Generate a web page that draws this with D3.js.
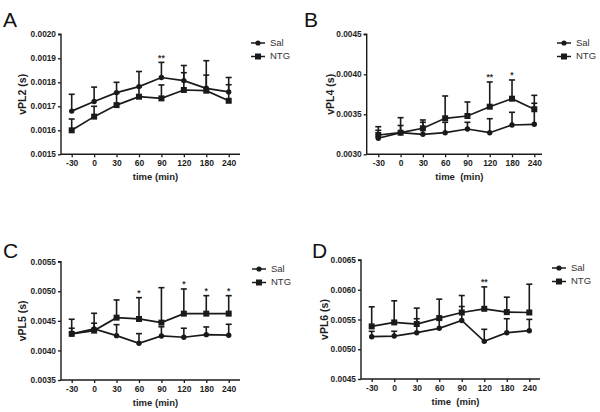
<!DOCTYPE html>
<html><head><meta charset="utf-8">
<script src="https://cdn.jsdelivr.net/npm/d3@7"></script>
<style>body{margin:0;background:#fff}svg{display:block}</style>
</head><body>
<svg id="c" width="600" height="412"></svg>
<script>
const times = ["-30","0","30","60","90","120","180","240"];
const seriesNames = ["Sal","NTG"];

const salA = [0.00168,0.00172,0.001757,0.001782,0.00182,0.001807,0.001775,0.00176];
const salAerr = [0.00007,0.00006,0.000043,0.000063,0.000063,0.000063,0.000115,0.00006];
const ntgA = [0.0016,0.001657,0.001705,0.00174,0.001733,0.001768,0.001765,0.001723];
const ntgAerr = [0.000047,0.000043,0.000049,0.00004,0.000056,0.000072,0.000065,0.000067];
const sigA = ["","","","","**","","",""];
const ticksA = [0.0015,0.0016,0.0017,0.0018,0.0019,0.0020];

const salB = [0.0032,0.00327,0.00325,0.00327,0.003316,0.00327,0.003366,0.003375];
const salBerr = [0.0001,0.00009,0.00015,0.00013,0.000084,0.000175,0.000159,0.000263];
const ntgB = [0.003241,0.00327,0.003325,0.00345,0.003479,0.003595,0.003695,0.003563];
const ntgBerr = [0.000104,0.000188,0.000104,0.000279,0.000175,0.000309,0.000234,0.000174];
const sigB = ["","","","","","**","*",""];
const ticksB = [0.0030,0.0035,0.0040,0.0045];

const salC = [0.004279,0.004363,0.00425,0.004121,0.004245,0.004223,0.004267,0.004257];
const salCerr = [0.000096,0.000097,0.000186,0.000163,0.000155,0.000152,0.00013,0.000185];
const ntgC = [0.00428,0.004335,0.004554,0.004532,0.00447,0.004622,0.004622,0.004622];
const ntgCerr = [0.000247,0.000293,0.000299,0.00036,0.000591,0.000417,0.000304,0.000304];
const sigC = ["","","","*","","*","*","*"];
const ticksC = [0.0035,0.0040,0.0045,0.0050,0.0055];

const salD = [0.005211,0.005222,0.005278,0.005352,0.005484,0.005133,0.005278,0.005312];
const salDerr = [0.00009,0.00008,0.000235,0.00015,0.000234,0.000202,0.000235,0.00019];
const ntgD = [0.005384,0.005451,0.005424,0.005524,0.005618,0.00568,0.005624,0.005618];
const ntgDerr = [0.000329,0.000363,0.000267,0.000318,0.000285,0.000368,0.000251,0.000475];
const sigD = ["","","","","","**","",""];
const ticksD = [0.0045,0.0050,0.0055,0.0060,0.0065];

const panels = [
  {letter:"A", ylab:"vPL2 (s)", xlab:"time (min)", sal:salA, salErr:salAerr, ntg:ntgA, ntgErr:ntgAerr, sig:sigA, ticks:ticksA,
   ax:61, yTop:34.3, yBot:154.3, x0:71.7, x1:228.7, xEnd:240, letterX:3, letterY:27, ylabX:23, legX:258, legY:43},
  {letter:"B", ylab:"vPL4 (s)", xlab:"time  (min)", sal:salB, salErr:salBerr, ntg:ntgB, ntgErr:ntgBerr, sig:sigB, ticks:ticksB,
   ax:366.7, yTop:34.3, yBot:154.3, x0:378.3, x1:534.3, xEnd:542, letterX:304, letterY:27, ylabX:331, legX:564, legY:43},
  {letter:"C", ylab:"vPL5 (s)", xlab:"time (min)", sal:salC, salErr:salCerr, ntg:ntgC, ntgErr:ntgCerr, sig:sigC, ticks:ticksC,
   ax:61, yTop:261.7, yBot:380, x0:71.7, x1:228.7, xEnd:240, letterX:3, letterY:258, ylabX:23, legX:259, legY:269},
  {letter:"D", ylab:"vPL6 (s)", xlab:"time  (min)", sal:salD, salErr:salDerr, ntg:ntgD, ntgErr:ntgDerr, sig:sigD, ticks:ticksD,
   ax:361, yTop:260, yBot:379, x0:371.7, x1:529.3, xEnd:540, letterX:312, letterY:258, ylabX:325, legX:559, legY:268}
];

const svg = d3.select("#c");
const ink = "#1a1a1a";
const fontB = "'Liberation Sans', Arial, sans-serif";

panels.forEach(p => {
  const g = svg.append("g");
  const y = d3.scaleLinear().domain([p.ticks[0], p.ticks[p.ticks.length-1]]).range([p.yBot, p.yTop]);
  const x = d3.scalePoint().domain(times).range([p.x0, p.x1]);

  const yAx = g.append("g").attr("transform", `translate(${p.ax},0)`)
    .call(d3.axisLeft(y).tickValues(p.ticks).tickFormat(d3.format(".4f")).tickSize(3).tickPadding(2));
  yAx.select(".domain").attr("stroke", ink).attr("stroke-width", 1.4).attr("d", `M-3,${p.yTop}H0V${p.yBot}`);
  yAx.selectAll(".tick line").attr("stroke", ink).attr("stroke-width", 1.3);
  yAx.selectAll(".tick text").attr("font-family", fontB).attr("font-weight", "bold").attr("font-size", 8.3).attr("fill", "#1e1e1e");

  const xAx = g.append("g").attr("transform", `translate(0,${p.yBot})`)
    .call(d3.axisBottom(x).tickSize(3).tickPadding(3));
  xAx.select(".domain").attr("stroke", ink).attr("stroke-width", 1.4).attr("d", `M${p.ax},0H${p.xEnd}`);
  xAx.selectAll(".tick line").attr("stroke", ink).attr("stroke-width", 1.3);
  xAx.selectAll(".tick text").attr("font-family", fontB).attr("font-weight", "bold").attr("font-size", 8.5).attr("fill", "#1e1e1e");

  g.append("text").attr("x", (p.ax + p.xEnd)/2 + 5).attr("y", p.yBot + 26)
    .attr("text-anchor", "middle").attr("font-family", fontB).attr("font-weight", "bold")
    .attr("font-size", 9.5).attr("fill", "#1e1e1e").attr("xml:space","preserve").style("white-space","pre").text(p.xlab);
  g.append("text").attr("transform", `translate(${p.ylabX},${(p.yTop+p.yBot)/2}) rotate(-90)`)
    .attr("text-anchor", "middle").attr("dominant-baseline", "middle")
    .attr("font-family", fontB).attr("font-weight", "bold").attr("font-size", 10.5).attr("fill", "#1e1e1e").text(p.ylab);
  g.append("text").attr("x", p.letterX).attr("y", p.letterY)
    .attr("font-family", fontB).attr("font-size", 21).attr("fill", "#111").text(p.letter);

  const series = [
    {name:"Sal", v:p.sal, e:p.salErr, shape:"circle"},
    {name:"NTG", v:p.ntg, e:p.ntgErr, shape:"square"}
  ];
  const line = d3.line().x((d,i)=>x(times[i])).y(d=>y(d));
  series.forEach(s => {
    const eb = g.append("g");
    s.v.forEach((v,i) => {
      const cx = x(times[i]), top = y(v + s.e[i]);
      eb.append("line").attr("x1", cx).attr("x2", cx).attr("y1", y(v)).attr("y2", top)
        .attr("stroke", ink).attr("stroke-width", 1.6);
      eb.append("line").attr("x1", cx-3).attr("x2", cx+3).attr("y1", top).attr("y2", top)
        .attr("stroke", ink).attr("stroke-width", 1.6);
    });
    g.append("path").datum(s.v).attr("d", line).attr("fill","none").attr("stroke", ink).attr("stroke-width", 1.7);
    s.v.forEach((v,i) => {
      const cx = x(times[i]), cy = y(v);
      if (s.shape === "circle") g.append("circle").attr("cx", cx).attr("cy", cy).attr("r", 2.7).attr("fill", ink);
      else g.append("rect").attr("x", cx-3).attr("y", cy-3).attr("width", 6).attr("height", 6).attr("fill", ink);
    });
  });

  p.sig.forEach((s,i) => {
    if (!s) return;
    const top = Math.min(y(p.sal[i]+p.salErr[i]), y(p.ntg[i]+p.ntgErr[i]));
    g.append("text").attr("x", x(times[i])).attr("y", top - 1.5).attr("text-anchor","middle")
      .attr("font-family", fontB).attr("font-weight","bold").attr("font-size", 8.5).attr("fill", "#333").text(s);
  });

  series.forEach((s,k) => {
    const ly = p.legY + k*13.5;
    g.append("line").attr("x1", p.legX-7).attr("x2", p.legX+7).attr("y1", ly).attr("y2", ly).attr("stroke", ink).attr("stroke-width", 1.5);
    if (s.shape === "circle") g.append("circle").attr("cx", p.legX).attr("cy", ly).attr("r", 2.6).attr("fill", ink);
    else g.append("rect").attr("x", p.legX-3).attr("y", ly-3).attr("width", 6).attr("height", 6).attr("fill", ink);
    g.append("text").attr("x", p.legX+12).attr("y", ly).attr("dominant-baseline","middle")
      .attr("font-family", fontB).attr("font-size", 9.5).attr("fill", "#333").text(s.name);
  });
});
</script>
</body></html>
